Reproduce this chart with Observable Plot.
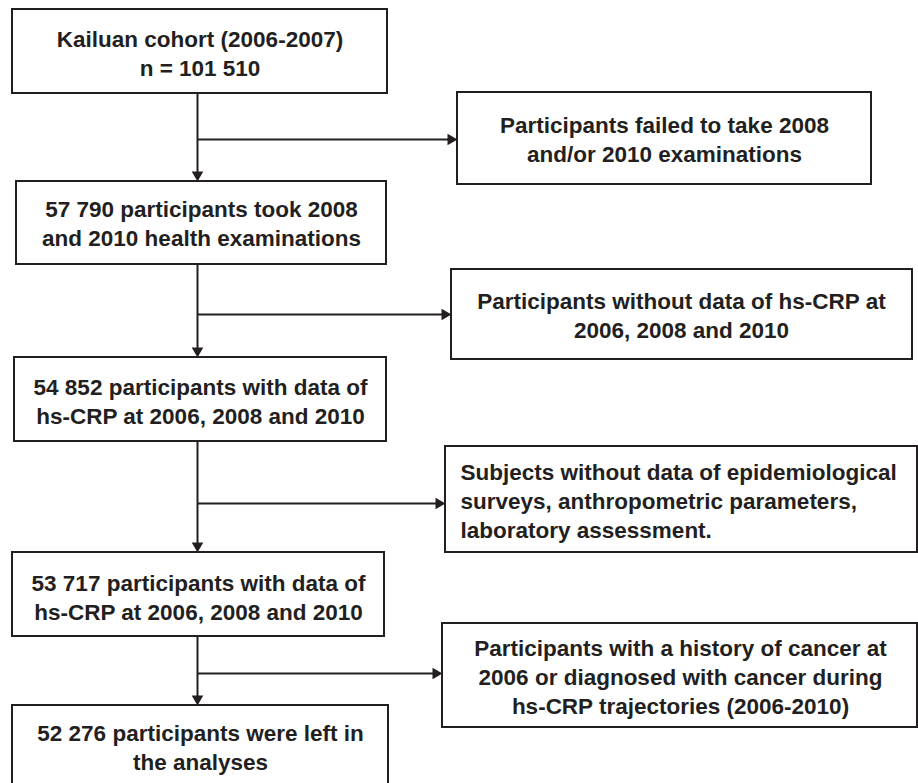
<!DOCTYPE html>
<html>
<head>
<meta charset="utf-8">
<script src="https://cdn.jsdelivr.net/npm/d3@7"></script>
<script src="https://cdn.jsdelivr.net/npm/@observablehq/plot@0.6"></script>
<style>
  html, body { margin: 0; padding: 0; background: #fff; overflow: hidden; }
  #chart svg { display: block; }
</style>
</head>
<body>
<div id="chart"></div>
<script>
// ---- content ----
const mainLabels = [
  "Kailuan cohort (2006-2007)\nn = 101 510",
  "57 790 participants took 2008\nand 2010 health examinations",
  "54 852 participants with data of\nhs-CRP at 2006, 2008 and 2010",
  "53 717 participants with data of\nhs-CRP at 2006, 2008 and 2010",
  "52 276 participants were left in\nthe analyses"
];
const exclusionLabels = [
  "Participants failed to take 2008\nand/or 2010 examinations",
  "Participants without data of hs-CRP at\n2006, 2008 and 2010",
  "Subjects without data of epidemiological\nsurveys, anthropometric parameters,\nlaboratory assessment.",
  "Participants with a history of cancer at\n2006 or diagnosed with cancer during\nhs-CRP trajectories (2006-2010)"
];
const exclusionAlign = ["middle", "middle", "start", "middle"];

// ---- layout (pixel space of the diagram) ----
const mainX1 = [12, 16, 14, 12, 12];
const mainX2 = [387, 386, 386, 384, 388];
const mainY1 = [9, 181, 357, 552, 705];
const mainY2 = [93, 264, 441, 636, 810];
const mainTextY = [52, 222, 400, 596, 746];
const exX1 = [457, 451, 445, 442];
const exX2 = [871, 912, 917, 917];
const exY1 = [92, 269, 446, 623];
const exY2 = [184, 359, 552, 727];
const exTextX = [664, 681, 460, 680];
const branchY = [139, 314, 503, 673];
const trunkX = 197;

const W = 918, H = 783;
const ink = "#231f20";
const fontSize = 22.5;

const mainBoxes = mainLabels.map((t, i) => ({
  label: t, x1: mainX1[i], x2: mainX2[i], y1: mainY1[i], y2: mainY2[i],
  tx: (mainX1[i] + mainX2[i]) / 2, ty: mainTextY[i], anchor: "middle"
}));
const exBoxes = exclusionLabels.map((t, i) => ({
  label: t, x1: exX1[i], x2: exX2[i], y1: exY1[i], y2: exY2[i],
  tx: exTextX[i], ty: (exY1[i] + exY2[i]) / 2, anchor: exclusionAlign[i]
}));

// connectors
const vLinks = [], hLinks = [], downHeads = [], rightHeads = [];
const headLen = 10;
for (let i = 0; i < 4; i++) {
  vLinks.push({x1: trunkX, y1: mainY2[i], x2: trunkX, y2: mainY1[i + 1] - headLen + 1});
  hLinks.push({x1: trunkX, y1: branchY[i], x2: exX1[i] - headLen + 1, y2: branchY[i]});
  downHeads.push({x: trunkX, y: mainY1[i + 1] - headLen * 2 / 3});
  rightHeads.push({x: exX1[i] - headLen * 2 / 3, y: branchY[i]});
}
const yy = headLen / 3;
const triR = Math.sqrt(3 * Math.sqrt(3) * yy * yy / Math.PI);

const boxStyle = {fill: "white", stroke: ink, strokeWidth: 2};
const textStyle = {
  fontSize, fontWeight: "bold", fill: ink, lineAnchor: "middle", lineHeight: 1.3,
  fontFamily: "'Liberation Sans', Arial, Helvetica, sans-serif"
};

const plot = Plot.plot({
  width: W, height: H,
  margin: 0,
  x: {type: "linear", domain: [0, W], range: [0, W], axis: null},
  y: {type: "linear", domain: [0, H], range: [0, H], axis: null},
  style: {background: "white", overflow: "hidden"},
  marks: [
    Plot.link(vLinks, {x1: "x1", y1: "y1", x2: "x2", y2: "y2", stroke: ink, strokeWidth: 2}),
    Plot.link(hLinks, {x1: "x1", y1: "y1", x2: "x2", y2: "y2", stroke: ink, strokeWidth: 2}),
    Plot.dot(downHeads, {x: "x", y: "y", symbol: "triangle", r: triR, rotate: 180, fill: ink, stroke: "none"}),
    Plot.dot(rightHeads, {x: "x", y: "y", symbol: "triangle", r: triR, rotate: 90, fill: ink, stroke: "none"}),
    Plot.rect(mainBoxes, {x1: "x1", x2: "x2", y1: "y1", y2: "y2", ...boxStyle}),
    Plot.rect(exBoxes, {x1: "x1", x2: "x2", y1: "y1", y2: "y2", ...boxStyle}),
    Plot.text(mainBoxes, {x: "tx", y: "ty", text: "label", textAnchor: "middle", ...textStyle}),
    Plot.text(exBoxes.filter(d => d.anchor === "middle"), {x: "tx", y: "ty", text: "label", textAnchor: "middle", ...textStyle}),
    Plot.text(exBoxes.filter(d => d.anchor === "start"), {x: "tx", y: "ty", text: "label", textAnchor: "start", ...textStyle})
  ]
});
document.getElementById("chart").appendChild(plot);
</script>
</body>
</html>
